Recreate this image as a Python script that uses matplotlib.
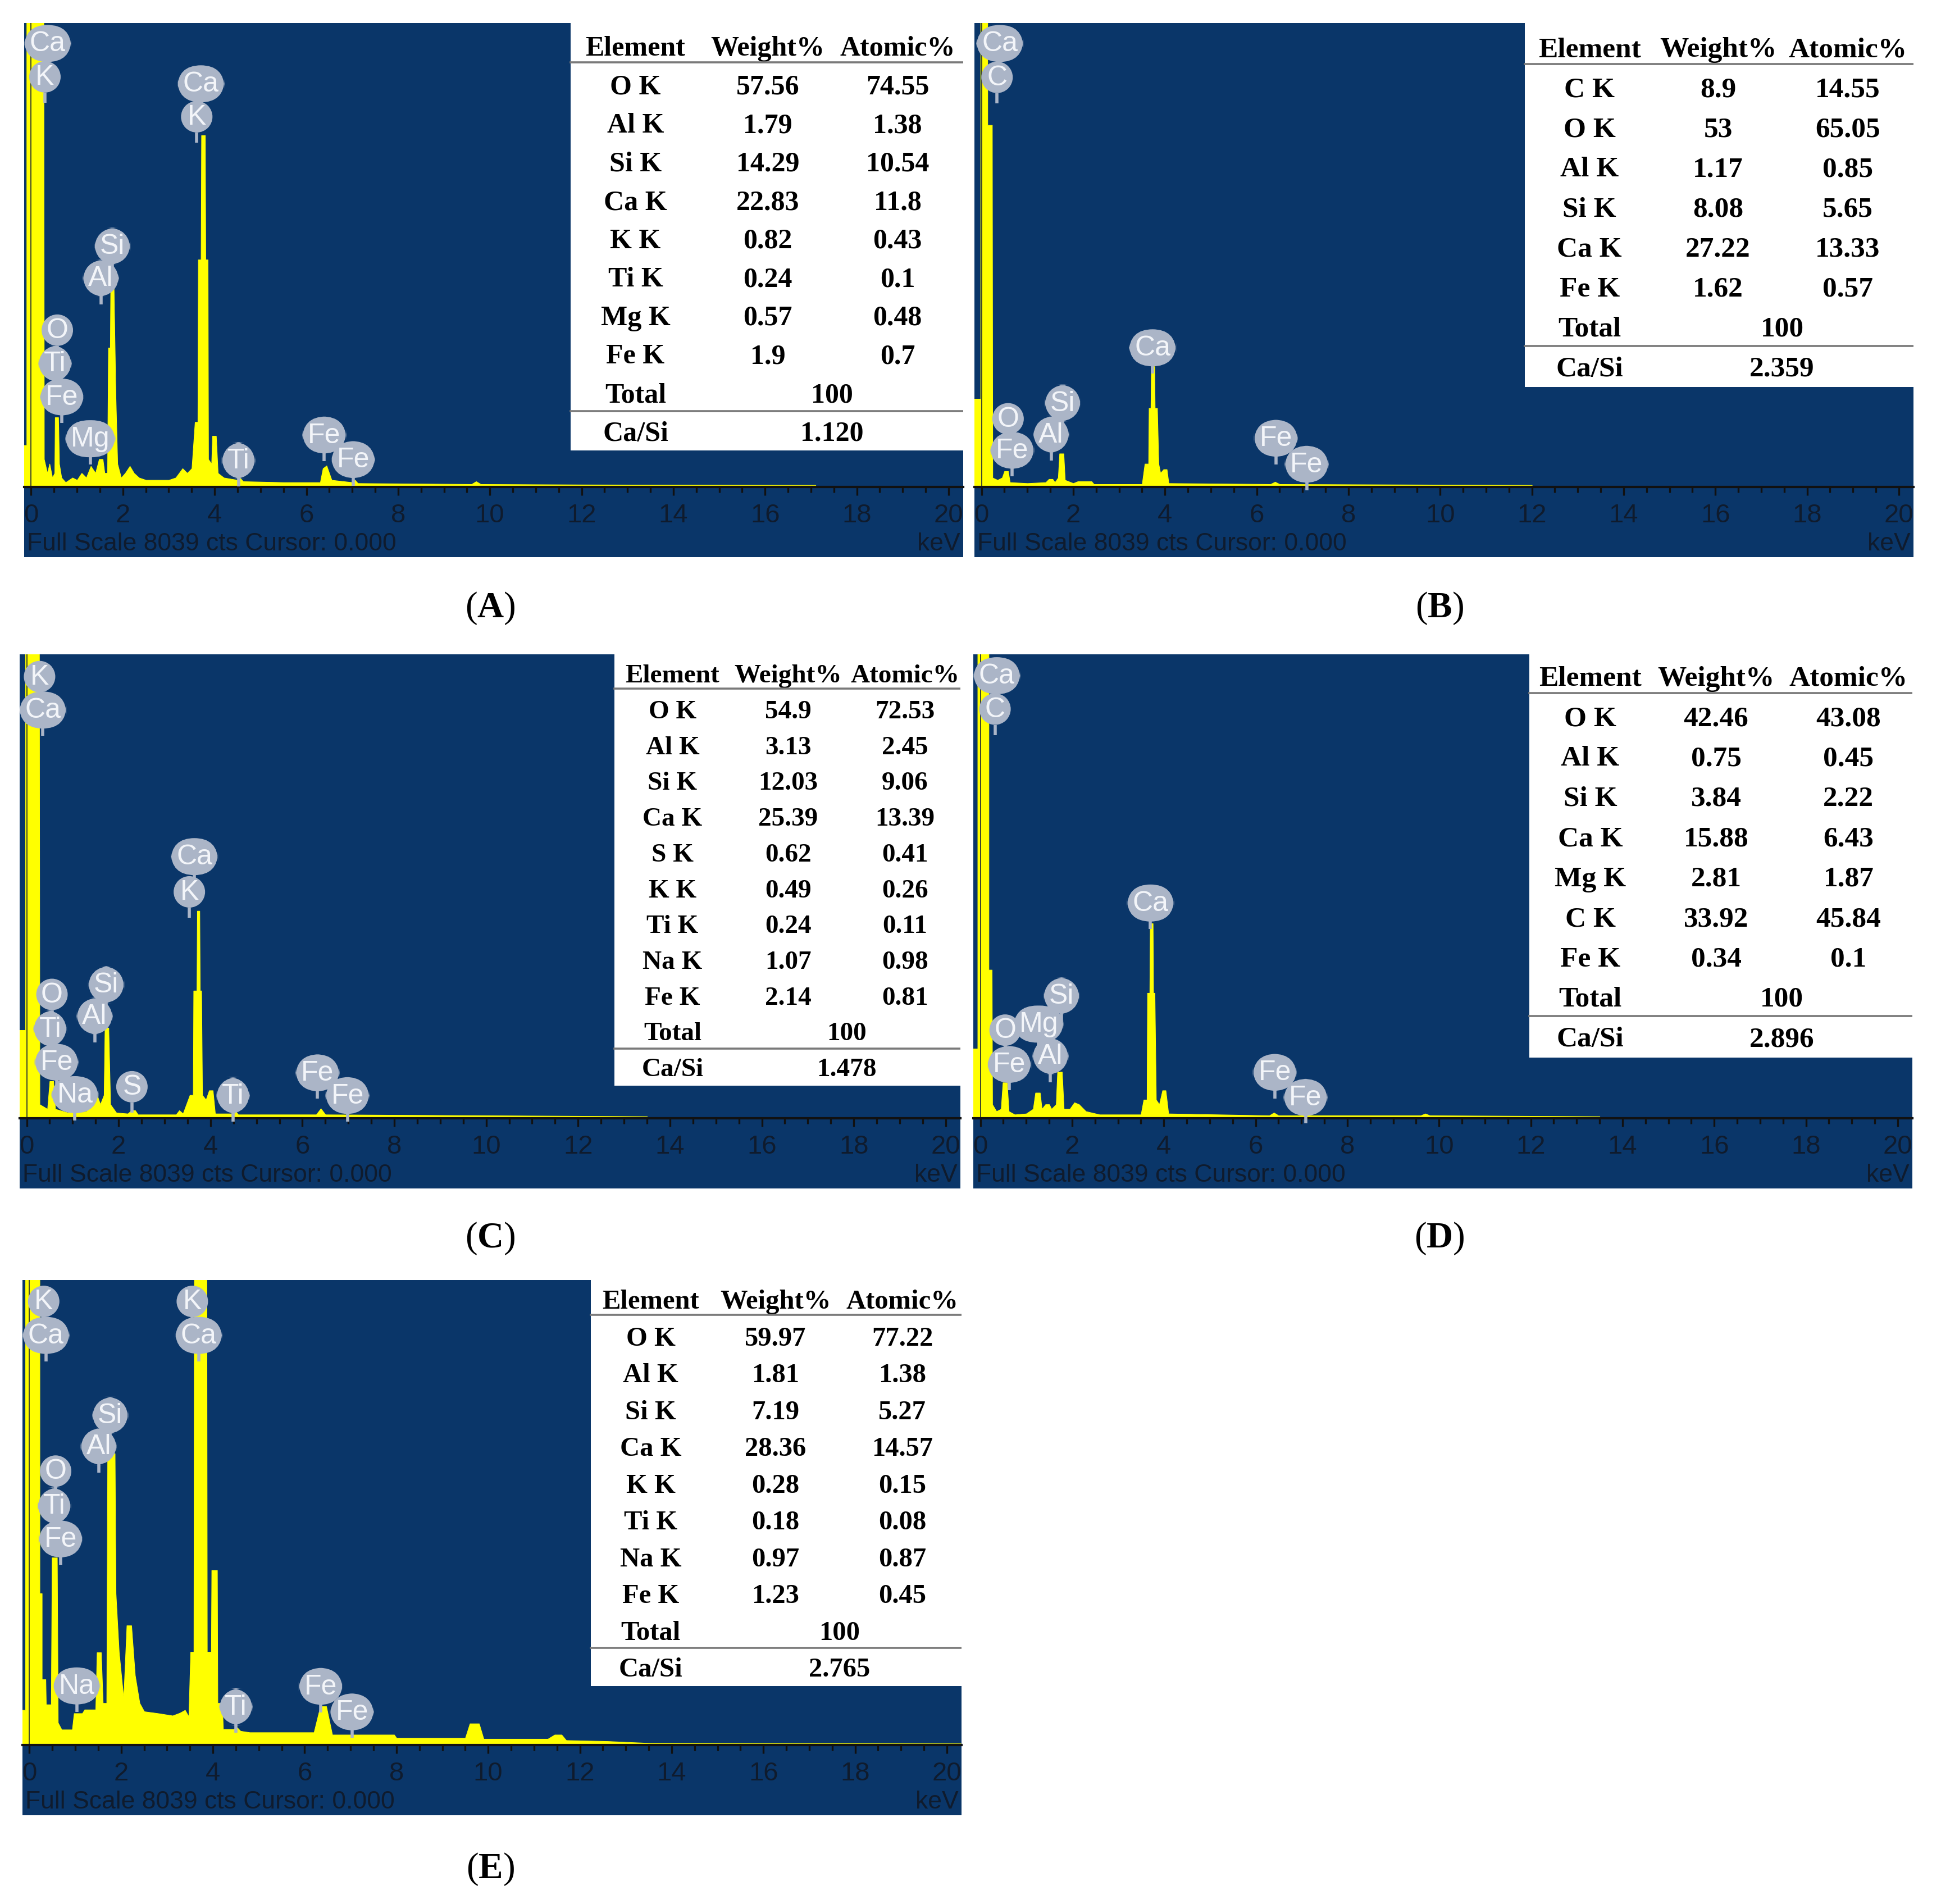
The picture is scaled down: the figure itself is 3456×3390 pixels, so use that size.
import numpy as np
import matplotlib
matplotlib.use("Agg")
import matplotlib.pyplot as plt
from matplotlib.patches import Rectangle
from matplotlib.transforms import blended_transform_factory

plt.rcParams["mathtext.fontset"] = "custom"
plt.rcParams["mathtext.rm"] = "Liberation Serif"
plt.rcParams["mathtext.bf"] = "Liberation Serif:bold"

BLUE = "#0a3669"
YELLOW = "#ffff00"
BUBBLE = "#abb5c7"
INK = "#0f1b2d"

# ---------------- spectra: (keV, fraction of full scale) ----------------
spec_a = [(-0.16, 0.09), (-0.10, 0.09), (-0.10, 1.05), (0.27, 1.05), (0.28, 0.06), (0.35, 0.03),
          (0.40, 0.05), (0.46, 0.02), (0.51, 0.03), (0.52, 0.15), (0.59, 0.15), (0.61, 0.05),
          (0.66, 0.02), (0.75, 0.01), (0.90, 0.02), (1.00, 0.015), (1.10, 0.03), (1.20, 0.02),
          (1.30, 0.045), (1.40, 0.03), (1.48, 0.06), (1.56, 0.06), (1.60, 0.03), (1.66, 0.03),
          (1.68, 0.30), (1.72, 0.30), (1.73, 0.433), (1.80, 0.433), (1.84, 0.20), (1.88, 0.05),
          (1.96, 0.02), (2.05, 0.03), (2.15, 0.045), (2.24, 0.03), (2.35, 0.02), (2.50, 0.015),
          (3.00, 0.015), (3.15, 0.02), (3.30, 0.04), (3.40, 0.03), (3.50, 0.04), (3.57, 0.14),
          (3.63, 0.14), (3.64, 0.49), (3.70, 0.49), (3.71, 0.758), (3.79, 0.758), (3.80, 0.49),
          (3.85, 0.49), (3.86, 0.06), (3.93, 0.05), (3.95, 0.11), (4.03, 0.11), (4.07, 0.03),
          (4.20, 0.02), (4.50, 0.015), (4.55, 0.02), (4.62, 0.012), (5.50, 0.01), (6.30, 0.01),
          (6.36, 0.04), (6.44, 0.046), (6.55, 0.015), (7.00, 0.01), (7.06, 0.015), (7.12, 0.008),
          (9.60, 0.006), (9.70, 0.012), (9.80, 0.006), (12.0, 0.005), (17.1, 0.004), (17.1, 0.0)]

spec_b = [(-0.16, 0.19), (-0.02, 0.19), (-0.02, 1.05), (0.13, 1.05), (0.13, 0.78), (0.23, 0.78),
          (0.24, 0.02), (0.35, 0.015), (0.45, 0.02), (0.50, 0.034), (0.58, 0.034), (0.62, 0.01),
          (1.00, 0.008), (1.40, 0.01), (1.47, 0.017), (1.55, 0.017), (1.60, 0.01), (1.67, 0.02),
          (1.70, 0.072), (1.79, 0.072), (1.82, 0.015), (2.00, 0.008), (2.10, 0.012), (2.40, 0.012),
          (2.45, 0.006), (3.50, 0.006), (3.56, 0.05), (3.64, 0.05), (3.65, 0.17), (3.69, 0.17),
          (3.70, 0.26), (3.77, 0.26), (3.78, 0.17), (3.83, 0.17), (3.86, 0.05), (3.90, 0.03),
          (3.97, 0.038), (4.04, 0.038), (4.08, 0.008), (6.30, 0.006), (6.40, 0.011), (6.50, 0.006),
          (12.0, 0.004), (12.0, 0.0)]

spec_c = [(-0.16, 0.19), (-0.03, 0.19), (-0.03, 1.05), (0.27, 1.05), (0.28, 0.03), (0.45, 0.02),
          (0.50, 0.08), (0.58, 0.08), (0.62, 0.02), (0.90, 0.012), (1.00, 0.03), (1.08, 0.03),
          (1.12, 0.012), (1.30, 0.015), (1.42, 0.047), (1.54, 0.047), (1.60, 0.03), (1.68, 0.05),
          (1.70, 0.195), (1.78, 0.195), (1.82, 0.03), (1.95, 0.012), (2.20, 0.01), (2.28, 0.017),
          (2.36, 0.017), (2.42, 0.008), (3.25, 0.008), (3.32, 0.017), (3.40, 0.01), (3.55, 0.05),
          (3.62, 0.05), (3.63, 0.275), (3.70, 0.275), (3.71, 0.447), (3.76, 0.447), (3.77, 0.275),
          (3.80, 0.275), (3.82, 0.05), (3.90, 0.04), (3.97, 0.06), (4.05, 0.06), (4.10, 0.01),
          (4.50, 0.01), (4.55, 0.015), (4.60, 0.008), (6.30, 0.008), (6.40, 0.021), (6.50, 0.008),
          (13.5, 0.004), (13.5, 0.0)]

spec_d = [(-0.16, 0.15), (-0.06, 0.15), (-0.06, 1.05), (0.18, 1.05), (0.18, 0.32), (0.25, 0.32),
          (0.26, 0.03), (0.35, 0.015), (0.45, 0.02), (0.49, 0.077), (0.58, 0.077), (0.62, 0.015),
          (0.75, 0.008), (1.00, 0.01), (1.15, 0.02), (1.20, 0.055), (1.30, 0.055), (1.34, 0.02),
          (1.42, 0.03), (1.50, 0.03), (1.55, 0.02), (1.65, 0.03), (1.68, 0.10), (1.78, 0.10),
          (1.82, 0.02), (1.95, 0.02), (2.05, 0.034), (2.15, 0.03), (2.30, 0.015), (2.60, 0.008),
          (3.50, 0.008), (3.56, 0.04), (3.63, 0.04), (3.64, 0.27), (3.69, 0.27), (3.70, 0.42),
          (3.76, 0.42), (3.77, 0.27), (3.80, 0.27), (3.83, 0.04), (3.90, 0.03), (3.97, 0.06),
          (4.04, 0.06), (4.10, 0.01), (6.30, 0.006), (6.40, 0.012), (6.50, 0.006), (9.60, 0.006),
          (9.70, 0.01), (9.80, 0.006), (13.5, 0.004), (13.5, 0.0)]

spec_e = [(-0.16, 0.075), (-0.09, 0.075), (-0.09, 1.05), (0.22, 1.05), (0.22, 0.326), (0.27, 0.326),
          (0.27, 0.141), (0.35, 0.141), (0.36, 0.087), (0.47, 0.087), (0.49, 0.403), (0.60, 0.403),
          (0.62, 0.048), (0.70, 0.033), (0.93, 0.033), (0.97, 0.068), (1.15, 0.068), (1.20, 0.076),
          (1.44, 0.076), (1.47, 0.199), (1.56, 0.199), (1.60, 0.09), (1.68, 0.09), (1.70, 0.627),
          (1.86, 0.627), (1.88, 0.326), (1.95, 0.20), (2.05, 0.10), (2.12, 0.257), (2.22, 0.257),
          (2.30, 0.15), (2.40, 0.09), (2.50, 0.072), (2.80, 0.068), (3.12, 0.063), (3.28, 0.069),
          (3.39, 0.075), (3.47, 0.061), (3.51, 0.20), (3.58, 0.20), (3.59, 1.05), (3.86, 1.05),
          (3.87, 0.20), (3.96, 0.20), (3.97, 0.376), (4.09, 0.376), (4.10, 0.09), (4.20, 0.09),
          (4.22, 0.034), (4.45, 0.034), (4.52, 0.038), (4.60, 0.03), (4.80, 0.027), (6.20, 0.027),
          (6.34, 0.083), (6.47, 0.083), (6.60, 0.022), (7.95, 0.022), (8.00, 0.015), (9.50, 0.015),
          (9.60, 0.046), (9.80, 0.046), (9.90, 0.013), (11.3, 0.013), (11.45, 0.022), (11.6, 0.022),
          (11.7, 0.01), (12.6, 0.008), (13.5, 0.004), (20.3, 0.003)]

# ---------------- peak tags: name, keV, height ----------------
tags_a = ["Ca", "K", "Ca", "K", "Si", "Al", "O", "Ti", "Fe", "Mg", "Ti", "Fe", "Fe"]
tag_kev_a = [0.36, 0.30, 3.70, 3.61, 1.77, 1.52, 0.57, 0.52, 0.67, 1.29, 4.52, 6.39, 7.02]
tag_h_a = [0.962, 0.890, 0.875, 0.804, 0.525, 0.456, 0.344, 0.272, 0.200, 0.110, 0.063, 0.118, 0.065]

tags_b = ["Ca", "C", "Ca", "Si", "O", "Al", "Fe", "Fe", "Fe"]
tag_kev_b = [0.40, 0.34, 3.73, 1.77, 0.58, 1.52, 0.67, 6.42, 7.09]
tag_h_b = [0.962, 0.889, 0.306, 0.187, 0.153, 0.119, 0.085, 0.111, 0.055]

tags_c = ["K", "Ca", "Ca", "K", "Si", "Al", "O", "Ti", "Fe", "Na", "S", "Ti", "Fe", "Fe"]
tag_kev_c = [0.28, 0.35, 3.65, 3.54, 1.73, 1.48, 0.55, 0.51, 0.65, 1.05, 2.29, 4.49, 6.33, 6.98]
tag_h_c = [0.958, 0.886, 0.570, 0.494, 0.294, 0.226, 0.273, 0.199, 0.127, 0.057, 0.074, 0.055, 0.104, 0.055]

tags_d = ["Ca", "C", "Ca", "Si", "Mg", "O", "Al", "Fe", "Fe", "Fe"]
tag_kev_d = [0.36, 0.32, 3.71, 1.77, 1.27, 0.54, 1.53, 0.63, 6.42, 7.09]
tag_h_d = [0.960, 0.888, 0.470, 0.270, 0.209, 0.196, 0.140, 0.122, 0.105, 0.051]

tags_e = ["K", "Ca", "K", "Ca", "Si", "Al", "O", "Ti", "Fe", "Na", "Ti", "Fe", "Fe"]
tag_kev_e = [0.31, 0.36, 3.55, 3.69, 1.76, 1.51, 0.57, 0.54, 0.68, 1.03, 4.50, 6.35, 7.03]
tag_h_e = [0.960, 0.887, 0.960, 0.887, 0.715, 0.648, 0.595, 0.520, 0.449, 0.133, 0.088, 0.132, 0.077]

# ---------------- composition tables ----------------
elem_a = ["O K", "Al K", "Si K", "Ca K", "K K", "Ti K", "Mg K", "Fe K"]
wt_a = ["57.56", "1.79", "14.29", "22.83", "0.82", "0.24", "0.57", "1.9"]
at_a = ["74.55", "1.38", "10.54", "11.8", "0.43", "0.1", "0.48", "0.7"]
casi_a = "1.120"

elem_b = ["C K", "O K", "Al K", "Si K", "Ca K", "Fe K"]
wt_b = ["8.9", "53", "1.17", "8.08", "27.22", "1.62"]
at_b = ["14.55", "65.05", "0.85", "5.65", "13.33", "0.57"]
casi_b = "2.359"

elem_c = ["O K", "Al K", "Si K", "Ca K", "S K", "K K", "Ti K", "Na K", "Fe K"]
wt_c = ["54.9", "3.13", "12.03", "25.39", "0.62", "0.49", "0.24", "1.07", "2.14"]
at_c = ["72.53", "2.45", "9.06", "13.39", "0.41", "0.26", "0.11", "0.98", "0.81"]
casi_c = "1.478"

elem_d = ["O K", "Al K", "Si K", "Ca K", "Mg K", "C K", "Fe K"]
wt_d = ["42.46", "0.75", "3.84", "15.88", "2.81", "33.92", "0.34"]
at_d = ["43.08", "0.45", "2.22", "6.43", "1.87", "45.84", "0.1"]
casi_d = "2.896"

elem_e = ["O K", "Al K", "Si K", "Ca K", "K K", "Ti K", "Na K", "Fe K"]
wt_e = ["59.97", "1.81", "7.19", "28.36", "0.28", "0.18", "0.97", "1.23"]
at_e = ["77.22", "1.38", "5.27", "14.57", "0.15", "0.08", "0.87", "0.45"]
casi_e = "2.765"

total = "100"
headers = ["Element", "Weight%", "Atomic%"]
xticks = list(range(0, 21, 2))

fig = plt.figure(figsize=(34.56, 33.91), dpi=100)

Y_LO = -0.1513  # axis line sits at ~13% of the panel height


def draw_spectrum(rect, spec, tags, tag_kev, tag_h):
    ax = fig.add_axes(rect)
    ax.set_facecolor(BLUE)
    ax.set_xlim(-0.153, 20.32)
    ax.set_ylim(Y_LO, 1.0)
    kev = [p[0] for p in spec]
    cts = [p[1] for p in spec]
    ax.fill_between(kev, cts, 0, facecolor=YELLOW, edgecolor=YELLOW, lw=0.8, zorder=2)
    ax.plot([0, 0], [0, 1], color="#1c2733", lw=1.2, zorder=3)

    for s in ["top", "left", "right"]:
        ax.spines[s].set_visible(False)
    ax.spines["bottom"].set_position(("data", 0))
    ax.spines["bottom"].set_color("#111111")
    ax.spines["bottom"].set_linewidth(3)
    ax.spines["bottom"].set_zorder(4)
    ax.set_xticks(xticks)
    ax.set_xticks(np.arange(0, 20.01, 0.5), minor=True)
    ax.tick_params(axis="x", which="major", length=11, width=2.4, color="#111111",
                   direction="out", labelbottom=False)
    ax.tick_params(axis="x", which="minor", length=7, width=2.4, color="#111111", direction="out")
    ax.set_yticks([])

    tr = blended_transform_factory(ax.transData, ax.transAxes)
    for v in xticks:
        ax.text(v, 0.079, str(v), transform=tr, ha="center", va="center", fontsize=34,
                family="Liberation Sans", color=INK, clip_on=True)
    ax.text(0.003, 0.026, "Full Scale 8039 cts Cursor: 0.000", transform=ax.transAxes,
            ha="left", va="center", fontsize=32, family="Liberation Sans", color=INK)
    ax.text(0.997, 0.026, "keV", transform=ax.transAxes, ha="right", va="center",
            fontsize=32, family="Liberation Sans", color=INK)

    for name, kx, hy in zip(tags, tag_kev, tag_h):
        if len(name) == 1:
            style = "circle,pad=0.1"
        else:
            style = "round,pad=0.2,rounding_size=0.85"
        ax.plot([kx, kx], [hy - 0.04, hy - 0.062], color=BUBBLE, lw=4,
                solid_capstyle="butt", zorder=5)
        ax.text(kx, hy, name, ha="center", va="center_baseline", fontsize=36,
                family="Liberation Sans", color="#f3f5f9", zorder=6, clip_on=True,
                bbox=dict(boxstyle=style, fc=BUBBLE, ec="none"))
    return ax


def draw_table(ax, elem, wt, at, casi, left, hy, s, cols, fs):
    n = len(elem)
    total_y = hy - s * (n + 1)
    ratio_y = total_y - s
    bottom = ratio_y - 0.53 * s
    ax.add_patch(Rectangle((left, bottom), 1 - left, 1 - bottom, transform=ax.transAxes,
                           facecolor="white", edgecolor="none", zorder=7))
    kw = dict(transform=ax.transAxes, ha="center", va="center_baseline", fontsize=fs,
              fontweight="bold", family="Liberation Serif", color="black", zorder=8)
    for txt, x in zip(headers, cols[:3]):
        ax.text(x, hy, txt, **kw)
    ax.plot([left, 1], [hy - 0.44 * s] * 2, transform=ax.transAxes, color="#7a7a7a",
            lw=2.6, zorder=8)
    for i, (e, w, a) in enumerate(zip(elem, wt, at)):
        y = hy - s * (i + 1)
        ax.text(cols[0], y, e, **kw)
        ax.text(cols[1], y, w, **kw)
        ax.text(cols[2], y, a, **kw)
    ax.text(cols[0], total_y, "Total", **kw)
    ax.text(cols[3], total_y, total, **kw)
    ax.plot([left, 1], [total_y - 0.5 * s] * 2, transform=ax.transAxes, color="#7a7a7a",
            lw=2.6, zorder=8)
    ax.text(cols[0], ratio_y, "Ca/Si", **kw)
    ax.text(cols[3], ratio_y, casi, **kw)


ax_a = draw_spectrum([0.01244, 0.70717, 0.48380, 0.28045], spec_a, tags_a, tag_kev_a, tag_h_a)
draw_table(ax_a, elem_a, wt_a, at_a, casi_a, 0.582, 0.9585, 0.0721, (0.651, 0.792, 0.930, 0.860), 36)

ax_b = draw_spectrum([0.50203, 0.70717, 0.48380, 0.28045], spec_b, tags_b, tag_kev_b, tag_h_b)
draw_table(ax_b, elem_b, wt_b, at_b, casi_b, 0.586, 0.956, 0.0747, (0.655, 0.792, 0.930, 0.860), 37)

ax_c = draw_spectrum([0.01013, 0.37570, 0.48466, 0.28045], spec_c, tags_c, tag_kev_c, tag_h_c)
draw_table(ax_c, elem_c, wt_c, at_c, casi_c, 0.632, 0.965, 0.067, (0.694, 0.817, 0.941, 0.879), 34)

ax_d = draw_spectrum([0.50145, 0.37570, 0.48380, 0.28045], spec_d, tags_d, tag_kev_d, tag_h_d)
draw_table(ax_d, elem_d, wt_d, at_d, casi_d, 0.592, 0.961, 0.0751, (0.657, 0.791, 0.932, 0.861), 37)

ax_e = draw_spectrum([0.01157, 0.04659, 0.48380, 0.28104], spec_e, tags_e, tag_kev_e, tag_h_e)
draw_table(ax_e, elem_e, wt_e, at_e, casi_e, 0.605, 0.965, 0.0687, (0.669, 0.802, 0.937, 0.870), 35)

# panel letters
for letter, x, y in [("A", 0.2525, 0.6805), ("B", 0.7415, 0.6805), ("C", 0.2525, 0.3497),
                     ("D", 0.7415, 0.3497), ("E", 0.2525, 0.0186)]:
    fig.text(x, y, r"($\mathbf{%s}$)" % letter, ha="center", va="center", fontsize=47,
             family="Liberation Serif")

fig.savefig("out.png", dpi=100, facecolor="white")
